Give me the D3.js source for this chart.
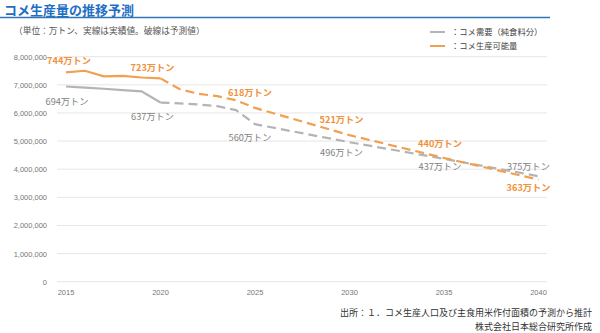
<!DOCTYPE html>
<html>
<head>
<meta charset="utf-8"/>
<script src="https://cdnjs.cloudflare.com/ajax/libs/d3/7.8.5/d3.min.js"></script>
<style>
  body { margin: 0; background: #fff; }
  svg { display: block; font-family: "Noto Sans CJK JP", "Noto Sans", sans-serif; }
</style>
</head>
<body>
<script>
// data (tons)
const years = [2015, 2016, 2017, 2018, 2019, 2020, 2021, 2022, 2023, 2024, 2025, 2030, 2035, 2040];
const demand = [6940000, 6900000, 6860000, 6810000, 6770000, 6370000, 6340000, 6300000, 6240000, 6100000, 5600000, 4960000, 4370000, 3750000];
const supply = [7440000, 7500000, 7300000, 7320000, 7260000, 7230000, 6850000, 6680000, 6600000, 6450000, 6180000, 5210000, 4400000, 3630000];
const lastActual = 2020;
const labelYears = [2015, 2020, 2025, 2030, 2035, 2040];
const demandLabels = ["694万トン", "637万トン", "560万トン", "496万トン", "437万トン", "375万トン"];
const supplyLabels = ["744万トン", "723万トン", "618万トン", "521万トン", "440万トン", "363万トン"];
const yTicks = [0, 1000000, 2000000, 3000000, 4000000, 5000000, 6000000, 7000000, 8000000];
const xTicks = [2015, 2020, 2025, 2030, 2035, 2040];

const W = 600, H = 333;
const grey = "#b4b4b4", orange = "#f0a050";

const svg = d3.select("body").append("svg").attr("width", W).attr("height", H);

// title
svg.append("text").attr("x", 4).attr("y", 15)
  .attr("font-size", 13).attr("font-weight", "bold").attr("fill", "#1f6fc4")
  .text("コメ生産量の推移予測");
svg.append("line").attr("x1", 0).attr("x2", 550).attr("y1", 17.5).attr("y2", 17.5)
  .attr("stroke", "#2e75b6").attr("stroke-width", 1.6);
svg.append("text").attr("x", 14).attr("y", 34)
  .attr("font-size", 8.7).attr("fill", "#555")
  .text("（単位：万トン、実線は実績値。破線は予測値）");

// legend
const legend = [["：コメ需要（純食料分）", grey], ["：コメ生産可能量", orange]];
legend.forEach(([t, c], i) => {
  const y = 32 + i * 14;
  svg.append("line").attr("x1", 430).attr("x2", 445).attr("y1", y).attr("y2", y)
    .attr("stroke", c).attr("stroke-width", 2);
  svg.append("text").attr("x", 451).attr("y", y + 3).attr("font-size", 8.3).attr("fill", "#444").text(t);
});

const x = d3.scaleLinear().domain([2015, 2040]).range([66, 538.5]);
const y = d3.scaleLinear().domain([0, 8000000]).range([281.7, 56.7]);

// grid + y labels
svg.append("g").selectAll("line").data(yTicks).join("line")
  .attr("x1", 57).attr("x2", 547)
  .attr("y1", d => y(d)).attr("y2", d => y(d))
  .attr("stroke", "#e6e6e6").attr("stroke-width", 1);
svg.append("g").selectAll("text").data(yTicks).join("text")
  .attr("x", 47).attr("y", d => y(d) + 3)
  .attr("text-anchor", "end").attr("font-size", 7.5).attr("fill", "#777")
  .attr("font-family", "Liberation Sans, sans-serif")
  .text(d => d3.format(",")(d));
svg.append("g").selectAll("text").data(xTicks).join("text")
  .attr("x", d => x(d)).attr("y", 295)
  .attr("text-anchor", "middle").attr("font-size", 7.5).attr("fill", "#777")
  .attr("font-family", "Liberation Sans, sans-serif")
  .text(d => d);

const line = d3.line().x(d => x(d[0])).y(d => y(d[1]));

function drawSeries(vals, color) {
  const pts = years.map((yr, i) => [yr, vals[i]]);
  svg.append("path").datum(pts.filter(p => p[0] <= lastActual))
    .attr("d", line).attr("fill", "none").attr("stroke", color).attr("stroke-width", 2.2);
  svg.append("path").datum(pts.filter(p => p[0] >= lastActual))
    .attr("d", line).attr("fill", "none").attr("stroke", color).attr("stroke-width", 2.2)
    .attr("stroke-dasharray", "9,5");
}
drawSeries(demand, grey);
drawSeries(supply, orange);

// value labels: offsets from points
const demandOff = [[1, 15], [-8, 14], [-5, 14], [-8, 11], [-4, 8], [-10, -9]];
const supplyOff = [[3, -11], [-8, -10], [-5, -15], [-8, -15], [-4, -14], [-10, 8]];
function drawLabels(labels, vals, offs, color, bold) {
  labels.forEach((t, i) => {
    const yr = labelYears[i];
    const v = vals[years.indexOf(yr)];
    svg.append("text")
      .attr("x", x(yr) + offs[i][0]).attr("y", y(v) + offs[i][1] + 3)
      .attr("text-anchor", "middle").attr("font-size", 9.2)
      .attr("font-weight", bold ? "bold" : "normal").attr("fill", color)
      .text(t);
  });
}
drawLabels(demandLabels, demand, demandOff, "#7f7f7f", false);
drawLabels(supplyLabels, supply, supplyOff, "#f0913a", true);

// source
svg.append("text").attr("x", 592).attr("y", 316).attr("text-anchor", "end")
  .attr("font-size", 9).attr("fill", "#333")
  .text("出所：１．コメ生産人口及び主食用米作付面積の予測から推計");
svg.append("text").attr("x", 592).attr("y", 330).attr("text-anchor", "end")
  .attr("font-size", 9).attr("fill", "#333")
  .text("株式会社日本総合研究所作成");
</script>
</body>
</html>
